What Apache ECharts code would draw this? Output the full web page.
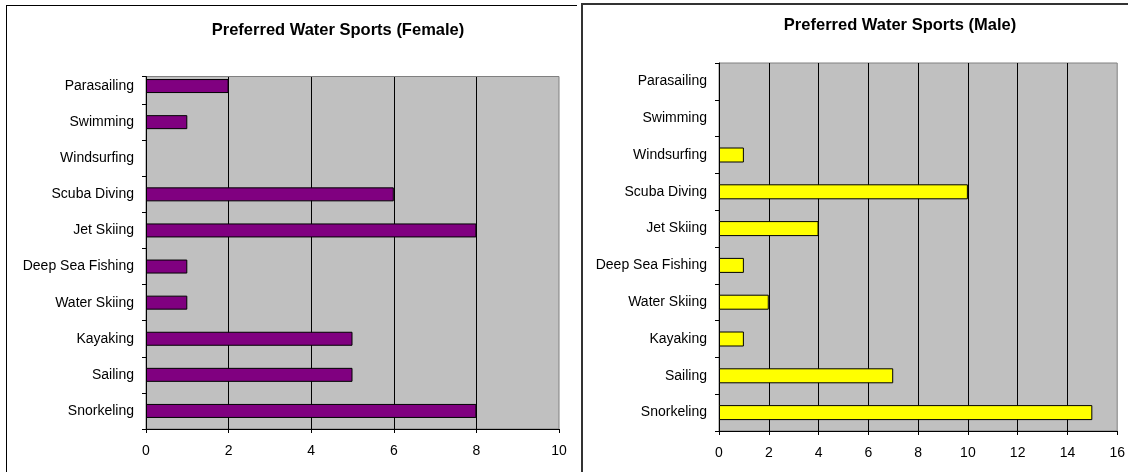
<!doctype html>
<html>
<head>
    <meta http-equiv="Content-Type" content="text/html; charset=utf-8">
    <title>Preferred Water Sports</title>
    <script src="https://cdn.jsdelivr.net/npm/echarts@6/dist/echarts.min.js"></script>
    <style>
        html,body{margin:0;padding:0;background:#fff;overflow:hidden;}
        #wrap{position:relative;width:1128px;height:472px;overflow:hidden;}
        .box1{position:absolute;left:6px;top:5px;width:570px;height:500px;border-top:1px solid #000;border-left:1px solid #000;}
        .box2{position:absolute;left:581px;top:3px;width:600px;height:500px;border:2px solid #333;}
    </style>
</head>
<body>
<div id="wrap">
    <div class="box1"></div>
    <div class="box2"></div>
    <div id="chart" style="position:absolute;left:0;top:0;width:1128px;height:472px;"></div>
</div>
<script type="text/javascript">
    // bottom to top, as the axis draws them
    var sports = ['Snorkeling', 'Sailing', 'Kayaking', 'Water Skiing', 'Deep Sea Fishing',
        'Jet Skiing', 'Scuba Diving', 'Windsurfing', 'Swimming', 'Parasailing'];
    var female = [8, 5, 5, 1, 1, 8, 6, 0, 1, 2];
    var male = [15, 7, 1, 2, 1, 4, 10, 1, 0, 0];
    var femaleMax = 10;
    var maleMax = 16;
    var titleFemale = 'Preferred Water Sports (Female)';
    var titleMale = 'Preferred Water Sports (Male)';

    var font = '"Liberation Sans", Arial, sans-serif';

    function xAxisOpt(idx, max) {
        return {
            type: 'value', gridIndex: idx, min: 0, max: max, interval: 2,
            axisLine: {show: true, lineStyle: {color: '#000', width: 1}},
            axisTick: {show: true, length: 4, lineStyle: {color: '#000'}},
            axisLabel: {color: '#000', fontSize: 14, fontFamily: font, margin: 15},
            splitLine: {show: true, showMinLine: false, showMaxLine: false, lineStyle: {color: '#000', width: 1}}
        };
    }
    function yAxisOpt(idx) {
        return {
            type: 'category', gridIndex: idx, data: sports,
            axisLine: {show: true, lineStyle: {color: '#000', width: 1}},
            axisTick: {show: true, length: 4, lineStyle: {color: '#000'}},
            axisLabel: {color: '#000', fontSize: 14, fontFamily: font, margin: 12},
            splitLine: {show: false}
        };
    }
    // zero values get no visible bar (Excel draws nothing for them)
    function barData(values) {
        return values.map(function (v) {
            return v === 0 ? {value: v, itemStyle: {borderWidth: 0, opacity: 0}} : v;
        });
    }

    var myChart = echarts.init(document.getElementById('chart'));
    var option = {
        animation: false,
        backgroundColor: 'transparent',
        graphic: [
            {type: 'text', x: 338, y: 30, style: {text: titleFemale, font: 'bold 16.5px ' + font, fill: '#000', textAlign: 'center', textVerticalAlign: 'middle'}},
            {type: 'text', x: 900, y: 25, style: {text: titleMale, font: 'bold 16.5px ' + font, fill: '#000', textAlign: 'center', textVerticalAlign: 'middle'}},
            // the female plot area is clipped at its top band
            {type: 'rect', z: 100, shape: {x: 138, y: 60, width: 430, height: 16.5}, style: {fill: '#fff'}},
            {type: 'line', z: 101, shape: {x1: 146, y1: 76.5, x2: 559, y2: 76.5}, style: {stroke: '#808080', lineWidth: 1}},
            {type: 'line', z: 101, shape: {x1: 142, y1: 76.5, x2: 146.5, y2: 76.5}, style: {stroke: '#000', lineWidth: 1}},
            {type: 'line', z: 101, shape: {x1: 146.5, y1: 76.5, x2: 146.5, y2: 80}, style: {stroke: '#000', lineWidth: 1}}
        ],
        grid: [
            {left: 146, top: 68, width: 413, height: 361, show: true, backgroundColor: '#C0C0C0', borderColor: '#808080', borderWidth: 1},
            {left: 719, top: 63, width: 400, height: 368, show: true, backgroundColor: '#C0C0C0', borderColor: '#808080', borderWidth: 1}
        ],
        xAxis: [xAxisOpt(0, femaleMax), xAxisOpt(1, maleMax)],
        yAxis: [yAxisOpt(0), yAxisOpt(1)],
        series: [
            {
                type: 'bar', xAxisIndex: 0, yAxisIndex: 0, data: barData(female), barWidth: 14,
                itemStyle: {color: '#800080', borderColor: '#000', borderWidth: 1}
            },
            {
                type: 'bar', xAxisIndex: 1, yAxisIndex: 1, data: barData(male), barWidth: 15,
                itemStyle: {color: '#FFFF00', borderColor: '#000', borderWidth: 1}
            }
        ]
    };
    myChart.setOption(option);
</script>
</body>
</html>
